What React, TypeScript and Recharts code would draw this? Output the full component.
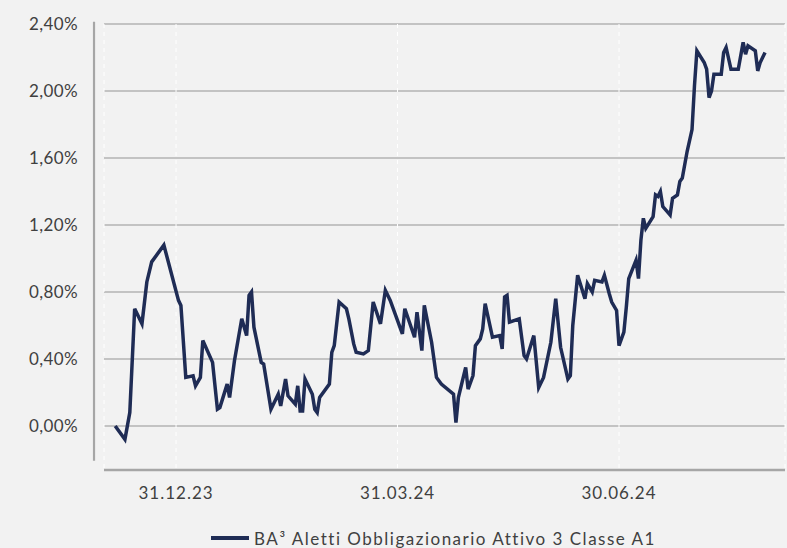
import React from 'react';
import {CartesianGrid, Legend, Line, LineChart, ReferenceLine, XAxis, YAxis} from 'recharts';

// days counted from 31.12.23, performance in %
const days = [
    -25, -21, -19, -17, -14, -12, -10, -5, 1, 2, 4, 7, 8, 10, 11, 15, 17, 18, 21, 22, 24,
    27, 29, 30, 31, 32, 35, 36, 39, 42, 43,
    45, 46, 49, 50, 51, 52, 53, 56, 57, 58,
    59, 63, 64, 65, 67, 70, 71, 73, 74, 77,
    79, 81, 84, 86, 88, 93, 94, 98, 99, 101,
    102, 105, 107, 109, 114, 115, 116, 119, 120, 122,
    123, 125, 126, 127, 130, 133, 134, 135, 136, 137,
    141, 143, 144, 147, 149, 151, 154, 156, 158, 161,
    162, 163, 165, 168, 169, 171, 172, 175, 176, 178,
    179, 181, 182, 184, 185, 186, 189, 190, 191, 192,
    193, 196, 197, 198, 199, 200, 203, 204, 206, 207,
    208, 210, 212, 213, 214, 217, 218, 219, 220, 221,
    224, 225, 226, 228, 231, 233, 234, 235, 238, 239,
    240, 242,
];

const values = [
    0.00, -0.08, 0.08, 0.70, 0.61, 0.86, 0.98, 1.08, 0.75, 0.72, 0.29, 0.30, 0.24, 0.29, 0.51, 0.38, 0.10, 0.11, 0.25, 0.17, 0.39,
    0.64, 0.54, 0.78, 0.80, 0.59, 0.38, 0.37, 0.10, 0.19, 0.12,
    0.28, 0.18, 0.13, 0.24, 0.09, 0.09, 0.28, 0.19, 0.10, 0.08,
    0.17, 0.25, 0.44, 0.48, 0.74, 0.70, 0.64, 0.49, 0.44, 0.43,
    0.45, 0.74, 0.61, 0.81, 0.75, 0.55, 0.70, 0.53, 0.68, 0.45,
    0.72, 0.50, 0.29, 0.25, 0.19, 0.02, 0.17, 0.35, 0.22, 0.30,
    0.48, 0.52, 0.58, 0.73, 0.53, 0.54, 0.46, 0.77, 0.78, 0.62,
    0.64, 0.42, 0.40, 0.54, 0.23, 0.29, 0.50, 0.76, 0.47, 0.28,
    0.30, 0.60, 0.90, 0.76, 0.85, 0.80, 0.87, 0.86, 0.90, 0.79,
    0.74, 0.69, 0.48, 0.56, 0.71, 0.88, 0.99, 0.88, 1.11, 1.24,
    1.18, 1.25, 1.38, 1.37, 1.40, 1.31, 1.26, 1.36, 1.38, 1.46,
    1.48, 1.64, 1.77, 2.03, 2.24, 2.17, 2.13, 1.96, 2.00, 2.10,
    2.10, 2.23, 2.26, 2.13, 2.13, 2.29, 2.22, 2.27, 2.24, 2.12,
    2.17, 2.23,
];

const tickDays = [0, 91, 182];
const tickLabels = ['31.12.23', '31.03.24', '30.06.24'];
const yTicks = [0, 0.4, 0.8, 1.2, 1.6, 2.0, 2.4];
const seriesName = 'BA³ Aletti Obbligazionario Attivo 3 Classe A1';

const data = days.slice(0, Math.min(days.length, values.length)).map((d, i) => ({day: d, value: values[i]}));

const NAVY = '#1f2c55';
const FONT = 'Lato, "DejaVu Sans", sans-serif';
const TEXT = '#404040';

const fmtPct = (v: number) => v.toFixed(2).replace('.', ',') + '%';
const fmtDay = (v: number) => tickLabels[tickDays.indexOf(v)] ?? '';

const LegendContent = () => (
    <div style={{
        display: 'flex', justifyContent: 'center', alignItems: 'center',
        paddingLeft: 82, fontFamily: FONT, fontSize: 17, color: TEXT, height: 20,
        letterSpacing: 1.5, whiteSpace: 'nowrap',
    }}>
        <span style={{display: 'inline-block', width: 38, height: 4, background: NAVY, marginRight: 5}}/>
        {seriesName}
    </div>
);

export default function App() {
    return (
        <div style={{position: 'absolute', left: 0, top: 0, width: 787, height: 548, background: '#f2f2f2'}}>
            <LineChart width={787} height={548} data={data} margin={{top: 24, right: 2, left: 0, bottom: 0}}>
                <CartesianGrid vertical={false} stroke="#b3b3b3" strokeWidth={1.3}/>
                <CartesianGrid horizontal={false} stroke="#ffffff" strokeDasharray="4 4"/>
                <XAxis
                    dataKey="day"
                    type="number"
                    domain={[-29.6, 250.2]}
                    ticks={tickDays}
                    tickFormatter={fmtDay}
                    height={58}
                    tickLine={false}
                    tickSize={0}
                    tickMargin={17}
                    axisLine={{stroke: '#a6a6a6', strokeWidth: 2.5}}
                    tick={{fill: TEXT, fontSize: 17, fontFamily: FONT, letterSpacing: 1}}
                />
                <YAxis
                    type="number"
                    domain={[-0.2627, 2.4]}
                    ticks={yTicks}
                    tickFormatter={fmtPct}
                    width={104}
                    allowDataOverflow
                    axisLine={false}
                    tickLine={false}
                    tickSize={0}
                    tickMargin={26}
                    tick={{fill: TEXT, fontSize: 17, fontFamily: FONT, letterSpacing: 0.4}}
                />
                <ReferenceLine
                    segment={[{x: -33.7, y: 2.414}, {x: -33.7, y: -0.207}]}
                    ifOverflow="visible"
                    stroke="#a6a6a6"
                    strokeWidth={2.2}
                />
                <Legend verticalAlign="bottom" height={20} content={LegendContent}/>
                <Line
                    type="linear"
                    dataKey="value"
                    name={seriesName}
                    stroke={NAVY}
                    strokeWidth={3.5}
                    dot={false}
                    isAnimationActive={false}
                />
            </LineChart>
        </div>
    );
}
